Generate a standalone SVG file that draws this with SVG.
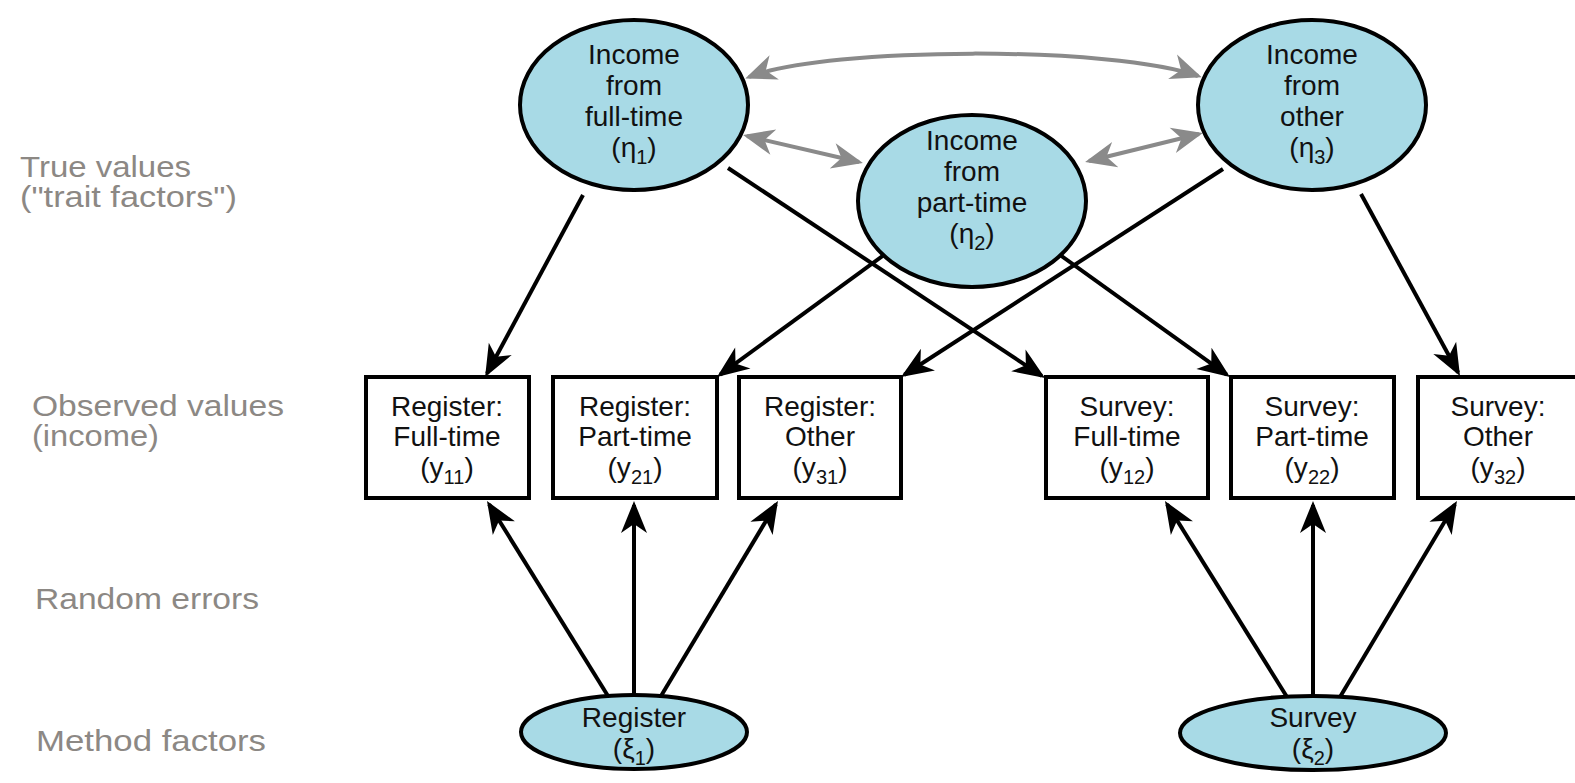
<svg xmlns="http://www.w3.org/2000/svg" width="1575" height="783" viewBox="0 0 1575 783">
<style>
.lbl{font-family:"Liberation Sans",Arial,sans-serif;font-size:29px;fill:#8c8884}
.nt{font-family:"Liberation Sans",Arial,sans-serif;font-size:28px;fill:#111;text-anchor:middle}
.sub{font-size:20px}
.ell{fill:#a8dae6;stroke:#000;stroke-width:4}
.box{fill:#fff;stroke:#000;stroke-width:4}
.blk{stroke:#000;stroke-width:4;fill:none;marker-end:url(#ah)}
.gry{stroke:#8a8a8a;stroke-width:4;fill:none;marker-start:url(#ag);marker-end:url(#ag)}
</style>
<defs>
<marker id="ah" viewBox="-30 -15 36 30" refX="0" refY="0" markerWidth="36" markerHeight="30" markerUnits="userSpaceOnUse" orient="auto-start-reverse">
<path d="M4,0 L-28,-13 L-19,0 L-28,13 Z" fill="#000"/>
</marker>
<marker id="ag" viewBox="-30 -15 36 30" refX="0" refY="0" markerWidth="36" markerHeight="30" markerUnits="userSpaceOnUse" orient="auto-start-reverse">
<path d="M4,0 L-27,-13 L-18,0 L-27,13 Z" fill="#8a8a8a"/>
</marker>
</defs>
<rect width="1575" height="783" fill="#fff"/>

<g id="labels">
<text class="lbl" x="20" y="177" textLength="171" lengthAdjust="spacingAndGlyphs">True values</text>
<text class="lbl" x="20" y="207" textLength="217" lengthAdjust="spacingAndGlyphs">("trait factors")</text>
<text class="lbl" x="32" y="416" textLength="252" lengthAdjust="spacingAndGlyphs">Observed values</text>
<text class="lbl" x="32" y="446" textLength="127" lengthAdjust="spacingAndGlyphs">(income)</text>
<text class="lbl" x="35" y="609" textLength="224" lengthAdjust="spacingAndGlyphs">Random errors</text>
<text class="lbl" x="36" y="751" textLength="230" lengthAdjust="spacingAndGlyphs">Method factors</text>
</g>

<g id="connectors">
<line class="blk" x1="583" y1="195" x2="487" y2="373.5"/>
<line class="blk" x1="728" y1="168" x2="1041.7" y2="375.8"/>
<line class="blk" x1="884" y1="255" x2="720.2" y2="374.6"/>
<line class="blk" x1="1060" y1="255" x2="1226.7" y2="374.7"/>
<line class="blk" x1="1223" y1="169" x2="904.4" y2="374.8"/>
<line class="blk" x1="1361" y1="194" x2="1458.1" y2="372.5"/>
<line class="blk" x1="608" y1="696" x2="489.1" y2="504.4"/>
<line class="blk" x1="634" y1="696" x2="634" y2="505"/>
<line class="blk" x1="661" y1="696" x2="775.9" y2="504.4"/>
<line class="blk" x1="1287" y1="697" x2="1167.1" y2="504.4"/>
<line class="blk" x1="1313" y1="697" x2="1313" y2="505"/>
<line class="blk" x1="1340" y1="697" x2="1454.9" y2="504.4"/>
<path class="gry" d="M749,77 C830,46 1115,46 1198,76"/>
<line class="gry" x1="747" y1="136" x2="859" y2="162"/>
<line class="gry" x1="1089" y1="161" x2="1199" y2="134"/>
</g>

<g id="eta1">
<ellipse class="ell" cx="634" cy="105" rx="114" ry="85"/>
<text class="nt" x="634" y="64">Income</text>
<text class="nt" x="634" y="95">from</text>
<text class="nt" x="634" y="126">full-time</text>
<text class="nt" x="634" y="157">(η<tspan class="sub" dy="7">1</tspan><tspan dy="-7">)</tspan></text>
</g>
<g id="eta2">
<ellipse class="ell" cx="972" cy="201" rx="114" ry="86"/>
<text class="nt" x="972" y="150">Income</text>
<text class="nt" x="972" y="181">from</text>
<text class="nt" x="972" y="212">part-time</text>
<text class="nt" x="972" y="243">(η<tspan class="sub" dy="7">2</tspan><tspan dy="-7">)</tspan></text>
</g>
<g id="eta3">
<ellipse class="ell" cx="1312" cy="105" rx="114" ry="85"/>
<text class="nt" x="1312" y="64">Income</text>
<text class="nt" x="1312" y="95">from</text>
<text class="nt" x="1312" y="126">other</text>
<text class="nt" x="1312" y="157">(η<tspan class="sub" dy="7">3</tspan><tspan dy="-7">)</tspan></text>
</g>

<g id="y11">
<rect class="box" x="366" y="377" width="163" height="121"/>
<text class="nt" x="447" y="416">Register:</text>
<text class="nt" x="447" y="446">Full-time</text>
<text class="nt" x="447" y="477">(y<tspan class="sub" dy="7">11</tspan><tspan dy="-7">)</tspan></text>
</g>
<g id="y21">
<rect class="box" x="553" y="377" width="164" height="121"/>
<text class="nt" x="635" y="416">Register:</text>
<text class="nt" x="635" y="446">Part-time</text>
<text class="nt" x="635" y="477">(y<tspan class="sub" dy="7">21</tspan><tspan dy="-7">)</tspan></text>
</g>
<g id="y31">
<rect class="box" x="739" y="377" width="162" height="121"/>
<text class="nt" x="820" y="416">Register:</text>
<text class="nt" x="820" y="446">Other</text>
<text class="nt" x="820" y="477">(y<tspan class="sub" dy="7">31</tspan><tspan dy="-7">)</tspan></text>
</g>
<g id="y12">
<rect class="box" x="1046" y="377" width="162" height="121"/>
<text class="nt" x="1127" y="416">Survey:</text>
<text class="nt" x="1127" y="446">Full-time</text>
<text class="nt" x="1127" y="477">(y<tspan class="sub" dy="7">12</tspan><tspan dy="-7">)</tspan></text>
</g>
<g id="y22">
<rect class="box" x="1231" y="377" width="163" height="121"/>
<text class="nt" x="1312" y="416">Survey:</text>
<text class="nt" x="1312" y="446">Part-time</text>
<text class="nt" x="1312" y="477">(y<tspan class="sub" dy="7">22</tspan><tspan dy="-7">)</tspan></text>
</g>
<g id="y32">
<rect class="box" x="1418" y="377" width="163" height="121"/>
<text class="nt" x="1498" y="416">Survey:</text>
<text class="nt" x="1498" y="446">Other</text>
<text class="nt" x="1498" y="477">(y<tspan class="sub" dy="7">32</tspan><tspan dy="-7">)</tspan></text>
</g>

<g id="xi1">
<ellipse class="ell" cx="634" cy="732" rx="113" ry="37"/>
<text class="nt" x="634" y="727">Register</text>
<text class="nt" x="634" y="758">(ξ<tspan class="sub" dy="7">1</tspan><tspan dy="-7">)</tspan></text>
</g>
<g id="xi2">
<ellipse class="ell" cx="1313" cy="733" rx="133" ry="37"/>
<text class="nt" x="1313" y="727">Survey</text>
<text class="nt" x="1313" y="758">(ξ<tspan class="sub" dy="7">2</tspan><tspan dy="-7">)</tspan></text>
</g>
</svg>
